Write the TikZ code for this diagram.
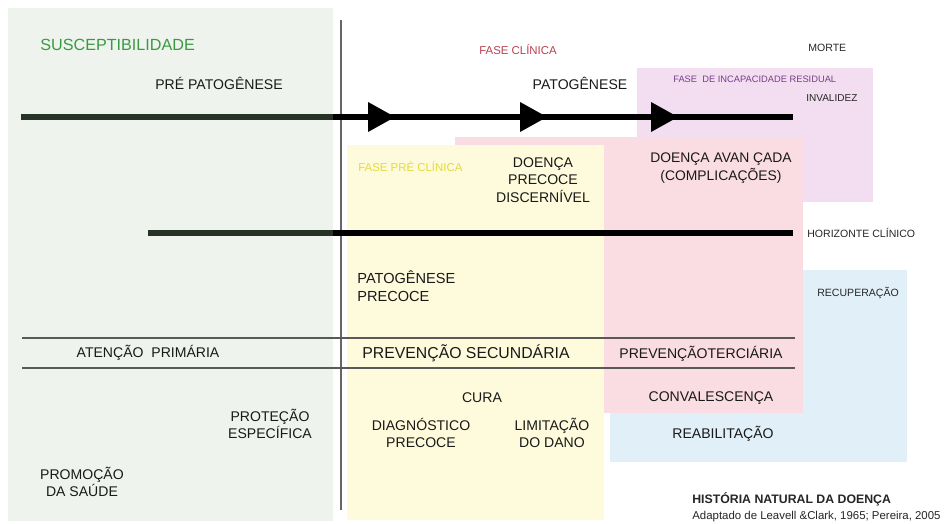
\documentclass[tikz,border=0pt]{standalone}
\usepackage{fontspec}
\setmainfont{Liberation Sans}
\usetikzlibrary{positioning,calc}

\definecolor{fundoverde}{HTML}{EEF3EE}
\definecolor{fundoamarelo}{HTML}{FDFBDC}
\definecolor{fundorosa}{HTML}{FADCE3}
\definecolor{fundolilas}{HTML}{F2DEF0}
\definecolor{fundoazul}{HTML}{E1F0F8}
\definecolor{verdetxt}{HTML}{3A9A42}
\definecolor{vermtxt}{HTML}{B8414F}
\definecolor{lilastxt}{HTML}{7A3C8A}
\definecolor{amartxt}{HTML}{E4DA3A}
\definecolor{eixoverde}{HTML}{263226}

\begin{document}
\begin{tikzpicture}[x=0.02cm, y=-0.02cm,
    texto/.style={font=\fontsize{8}{10}\selectfont, text=black!90, align=center, inner sep=0pt},
    pequeno/.style={font=\fontsize{6}{7}\selectfont, text=black!85, inner sep=0pt, anchor=west},
    eixo/.style={line width=3.4pt},
    divisa/.style={line width=0.8pt, black!65}]
  \useasboundingbox (0,0) rectangle (948,524);

  % fundos das fases
  \fill[fundoverde] (8,8) rectangle (333,521);
  \fill[fundolilas] (637,68) rectangle (873,202);
  \fill[fundoazul] (610,270) rectangle (907,462);
  \fill[fundorosa] (455,137) rectangle (803,413);
  \fill[fundoamarelo] (347,145) rectangle (604,520);
  \draw[black!60, line width=0.7pt] (341,20) -- (341,510);

  % eixos
  \coordinate (inicio) at (21,117);
  \coordinate (fim) at (793,117);
  \coordinate (horizinicio) at (148,233);
  \coordinate (horizfim) at (793,233);
  \draw[eixo] (inicio) -- (fim);
  \draw[eixo] (horizinicio) -- (horizfim);
  \draw[eixo, eixoverde] (inicio) -- (333,117);
  \draw[eixo, eixoverde] (horizinicio) -- (333,233);
  \foreach \x in {395,547,678}
    \fill (\x,117) -- ++(-27,-15) -- ++(0,30) -- cycle;

  \coordinate (linhaA) at (22,338);
  \coordinate (linhaAfim) at (795,338);
  \coordinate (linhaB) at (22,368);
  \coordinate (linhaBfim) at (795,368);
  \draw[divisa] (linhaA) -- (linhaAfim);
  \draw[divisa] (linhaB) -- (linhaBfim);

  % textos de cima
  \node[texto, anchor=west, text=verdetxt, font=\fontsize{9.2}{11}\selectfont] (susc) at (40,45) {SUSCEPTIBILIDADE};
  \node[texto] (prepat) at (219,83) {PRÉ PATOGÊNESE};
  \node[pequeno, text=vermtxt, font=\fontsize{6.5}{8}\selectfont] (faseclin) at (479,50) {FASE CLÍNICA};
  \node[pequeno] (morte) at (808,48) {MORTE};
  \node[texto] (pat) at (580,83) {PATOGÊNESE};
  \node[pequeno, text=lilastxt, font=\fontsize{5.3}{7}\selectfont] (incap) at (673,79) {FASE\ \ DE INCAPACIDADE RESIDUAL};
  \node[pequeno, font=\fontsize{5.7}{7}\selectfont] (invalidez) at (806,98) {INVALIDEZ};
  \node[pequeno, text=amartxt, font=\fontsize{6.5}{8}\selectfont] (preclin) at (358,167) {FASE PRÉ CLÍNICA};
  \node[texto] (precoce) at (543,180) {DOENÇA\\PRECOCE\\DISCERNÍVEL};
  \node[texto, font=\fontsize{7.9}{10}\selectfont] (avancada) at (721,168) {DOENÇA AVAN ÇADA\\(COMPLICAÇÕES)};
  \node[pequeno] (horiz) at (807,233) {HORIZONTE CLÍNICO};
  \node[texto, align=left, anchor=west, font=\fontsize{8.3}{10}\selectfont] (patprec) at (357,286) {PATOGÊNESE\\PRECOCE};
  \node[pequeno] (recup) at (817,293) {RECUPERAÇÃO};

  % niveis de prevencao
  \node[texto] (primaria) at (148,353) {ATENÇÃO\ \ PRIMÁRIA};
  \node[texto, font=\fontsize{9}{10}\selectfont] (secundaria) at (466,353) {PREVENÇÃO SECUNDÁRIA};
  \node[texto] (terciaria) at (701,354) {PREVENÇÃOTERCIÁRIA};

  \node[texto] (cura) at (482,398) {CURA};
  \node[texto] (convalesc) at (711,398) {CONVALESCENÇA};
  \node[texto] (protecao) at (270,424) {PROTEÇÃO\\ESPECÍFICA};
  \node[texto] (diagn) at (421,433) {DIAGNÓSTICO\\PRECOCE};
  \node[texto] (limit) at (552,433) {LIMITAÇÃO\\DO DANO};
  \node[texto] (reabil) at (723,434) {REABILITAÇÃO};
  \node[texto] (promocao) at (82,482) {PROMOÇÃO\\DA SAÚDE};

  % legenda
  \node[pequeno, font=\bfseries\fontsize{7}{8}\selectfont] (historia) at (692,499) {HISTÓRIA NATURAL DA DOENÇA};
  \node[pequeno, font=\fontsize{6.5}{8}\selectfont, below=2.5pt of historia.south west, anchor=north west] (fonte) {Adaptado de Leavell \&Clark, 1965; Pereira, 2005};
\end{tikzpicture}
\end{document}
